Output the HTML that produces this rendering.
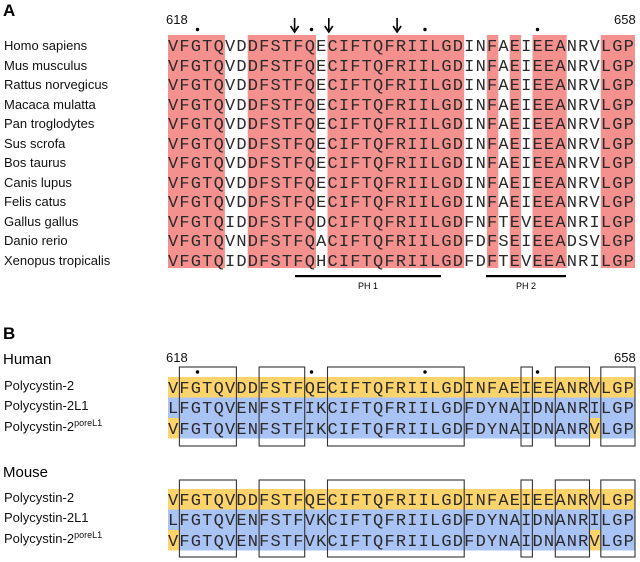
<!DOCTYPE html>
<html><head><meta charset="utf-8"><style>
html,body{margin:0;padding:0;background:#fff;}
svg{display:block;}
.s{font-family:"Liberation Sans",Arial,sans-serif;font-size:13px;fill:#111;}
.q{font-family:"Liberation Mono","Courier New",monospace;font-size:17px;letter-spacing:1.19px;fill:#2a2a2a;}
.n{font-family:"Liberation Sans",Arial,sans-serif;font-size:13px;fill:#111;}
</style></head><body>
<svg width="640" height="562" viewBox="0 0 640 562" xmlns="http://www.w3.org/2000/svg">
<text x="3" y="16" font-family="Liberation Sans, Arial, sans-serif" font-size="17" font-weight="bold">A</text>
<text x="166" y="24" class="n">618</text>
<text x="614" y="24" class="n">658</text>
<g fill="#f4918f">
<rect x="168" y="35" width="56.9" height="233"/>
<rect x="247.7" y="35" width="68.3" height="233"/>
<rect x="327.5" y="35" width="136.7" height="233"/>
<rect x="486.9" y="35" width="11.4" height="233"/>
<rect x="509.7" y="35" width="11.4" height="233"/>
<rect x="532.5" y="35" width="34.2" height="233"/>
<rect x="600.8" y="35" width="34.2" height="233"/>
</g>
<g stroke="#000" stroke-width="1.6" fill="#000">
<line x1="294.6" y1="18" x2="294.6" y2="30"/><path d="M290.6,26 L294.6,32 L298.6,26" fill="none"/>
<line x1="328.8" y1="18" x2="328.8" y2="30"/><path d="M324.8,26 L328.8,32 L332.8,26" fill="none"/>
<line x1="397.1" y1="18" x2="397.1" y2="30"/><path d="M393.1,26 L397.1,32 L401.1,26" fill="none"/>
</g>
<g fill="#000">
<circle cx="197.5" cy="29.5" r="1.7"/><circle cx="311.5" cy="29.5" r="1.7"/>
<circle cx="425" cy="29.5" r="1.7"/><circle cx="537.5" cy="29.5" r="1.7"/>
</g>
<g class="s">
<text x="4" y="50">Homo sapiens</text>
<text x="4" y="70">Mus musculus</text>
<text x="4" y="89">Rattus norvegicus</text>
<text x="4" y="109">Macaca mulatta</text>
<text x="4" y="128">Pan troglodytes</text>
<text x="4" y="148">Sus scrofa</text>
<text x="4" y="167">Bos taurus</text>
<text x="4" y="187">Canis lupus</text>
<text x="4" y="206">Felis catus</text>
<text x="4" y="226">Gallus gallus</text>
<text x="4" y="245">Danio rerio</text>
<text x="4" y="265">Xenopus tropicalis</text>
</g>
<g class="q">
<text x="168" y="51">VFGTQVDDFSTFQECIFTQFRIILGDINFAEIEEANRVLGP</text>
<text x="168" y="71">VFGTQVDDFSTFQECIFTQFRIILGDINFAEIEEANRVLGP</text>
<text x="168" y="90">VFGTQVDDFSTFQECIFTQFRIILGDINFAEIEEANRVLGP</text>
<text x="168" y="110">VFGTQVDDFSTFQECIFTQFRIILGDINFAEIEEANRVLGP</text>
<text x="168" y="129">VFGTQVDDFSTFQECIFTQFRIILGDINFAEIEEANRVLGP</text>
<text x="168" y="149">VFGTQVDDFSTFQECIFTQFRIILGDINFAEIEEANRVLGP</text>
<text x="168" y="168">VFGTQVDDFSTFQECIFTQFRIILGDINFAEIEEANRVLGP</text>
<text x="168" y="188">VFGTQVDDFSTFQECIFTQFRIILGDINFAEIEEANRVLGP</text>
<text x="168" y="207">VFGTQVDDFSTFQECIFTQFRIILGDINFAEIEEANRVLGP</text>
<text x="168" y="227">VFGTQIDDFSTFQDCIFTQFRIILGDFNFTEVEEANRILGP</text>
<text x="168" y="246">VFGTQVNDFSTFQACIFTQFRIILGDFDFSEIEEADSVLGP</text>
<text x="168" y="266">VFGTQIDDFSTFQHCIFTQFRIILGDFDFTEVEEANRILGP</text>
</g>
<rect x="295" y="275" width="146" height="2.2" fill="#000"/>
<rect x="486" y="275" width="80" height="2.2" fill="#000"/>
<text x="368" y="289" font-family="Liberation Sans, Arial, sans-serif" font-size="9" text-anchor="middle">PH 1</text>
<text x="526" y="289" font-family="Liberation Sans, Arial, sans-serif" font-size="9" text-anchor="middle">PH 2</text>

<text x="3" y="339" font-family="Liberation Sans, Arial, sans-serif" font-size="17" font-weight="bold">B</text>
<text x="3" y="364" font-family="Liberation Sans, Arial, sans-serif" font-size="15">Human</text>
<text x="166" y="362" class="n">618</text>
<text x="614" y="362" class="n">658</text>
<text x="3" y="477" font-family="Liberation Sans, Arial, sans-serif" font-size="15">Mouse</text>

<rect x="168" y="377" width="467" height="20.5" fill="#fdd46c"/>
<rect x="168" y="397.5" width="467" height="20.5" fill="#aac3f5"/>
<rect x="168" y="418" width="467" height="20.5" fill="#aac3f5"/>
<rect x="168" y="418" width="11.4" height="20.5" fill="#fdd46c"/>
<rect x="589.4" y="418" width="11.4" height="20.5" fill="#fdd46c"/>
<rect x="168" y="489" width="467" height="20.5" fill="#fdd46c"/>
<rect x="168" y="509.5" width="467" height="20.5" fill="#aac3f5"/>
<rect x="168" y="530" width="467" height="20.5" fill="#aac3f5"/>
<rect x="168" y="530" width="11.4" height="20.5" fill="#fdd46c"/>
<rect x="589.4" y="530" width="11.4" height="20.5" fill="#fdd46c"/>

<g fill="#000">
<circle cx="197.5" cy="372" r="1.7"/><circle cx="311.5" cy="372" r="1.7"/>
<circle cx="425" cy="372" r="1.7"/><circle cx="537.5" cy="372" r="1.7"/>
</g>
<g class="s">
<text x="4" y="390">Polycystin-2</text>
<text x="4" y="410">Polycystin-2L1</text>
<text x="4" y="431">Polycystin-2<tspan font-size="9" dy="-5">poreL1</tspan></text>
<text x="4" y="502">Polycystin-2</text>
<text x="4" y="522">Polycystin-2L1</text>
<text x="4" y="543">Polycystin-2<tspan font-size="9" dy="-5">poreL1</tspan></text>
</g>
<g class="q">
<text x="168" y="393">VFGTQVDDFSTFQECIFTQFRIILGDINFAEIEEANRVLGP</text>
<text x="168" y="413">LFGTQVENFSTFIKCIFTQFRIILGDFDYNAIDNANRILGP</text>
<text x="168" y="434">VFGTQVENFSTFIKCIFTQFRIILGDFDYNAIDNANRVLGP</text>
<text x="168" y="505">VFGTQVDDFSTFQECIFTQFRIILGDINFAEIEEANRVLGP</text>
<text x="168" y="525">LFGTQVENFSTFVKCIFTQFRIILGDFDYNAIDNANRILGP</text>
<text x="168" y="546">VFGTQVENFSTFVKCIFTQFRIILGDFDYNAIDNANRVLGP</text>
</g>
<g fill="none" stroke="#333" stroke-width="1.1">
<rect x="179.4" y="367" width="57" height="79"/>
<rect x="259.1" y="367" width="45.6" height="79"/>
<rect x="327.5" y="367" width="136.7" height="79"/>
<rect x="521" y="367" width="11.4" height="79"/>
<rect x="555.3" y="367" width="34.2" height="79"/>
<rect x="600.8" y="367" width="34.2" height="79"/>
<rect x="179.4" y="480" width="57" height="77"/>
<rect x="259.1" y="480" width="45.6" height="77"/>
<rect x="327.5" y="480" width="136.7" height="77"/>
<rect x="521" y="480" width="11.4" height="77"/>
<rect x="555.3" y="480" width="34.2" height="77"/>
<rect x="600.8" y="480" width="34.2" height="77"/>
</g>
</svg>
</body></html>
